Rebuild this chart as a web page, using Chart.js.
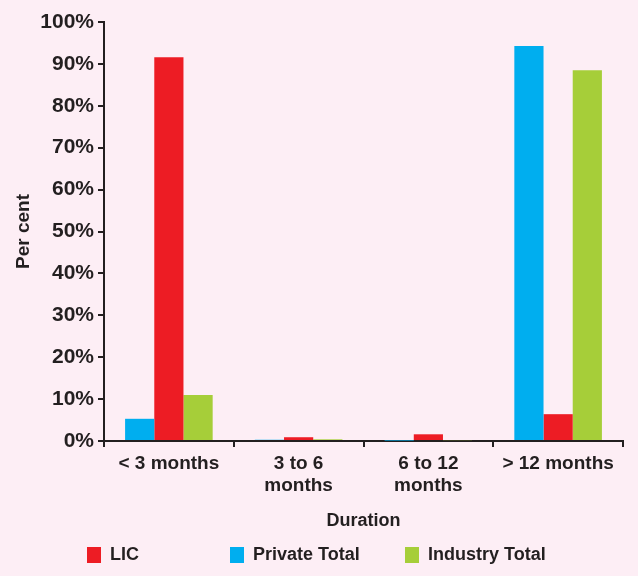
<!DOCTYPE html>
<html>
<head>
<meta charset="utf-8">
<script src="https://cdn.jsdelivr.net/npm/chart.js@4"></script>
<style>
  html, body { margin: 0; padding: 0; background: #fdeef5; }
  #wrap { position: relative; width: 638px; height: 576px; }
  #legend { position: absolute; top: 544px; left: 0; width: 638px; height: 26px;
    font-family: "Liberation Sans", Arial, sans-serif; font-size: 18px; font-weight: bold; color: #231f20; }
  .item { position: absolute; top: 0; display: flex; align-items: center; }
  .box { width: 14px; height: 16px; margin-right: 9px; }
</style>
</head>
<body>
<div id="wrap">
  <canvas id="chart" width="638" height="576"></canvas>
  <div id="legend"></div>
</div>
<script>
const categories = [['< 3 months'], ['3 to 6', 'months'], ['6 to 12', 'months'], ['> 12 months']];
const privateTotal = [5.3, 0.3, 0.1, 94.3];
const lic = [91.6, 0.9, 1.6, 6.4];
const industryTotal = [11.0, 0.4, 0.2, 88.5];
const yTicks = [0, 10, 20, 30, 40, 50, 60, 70, 80, 90, 100];

const ink = '#231f20';
const font = "'Liberation Sans', Arial, sans-serif";

const series = [
  { label: 'Private Total', data: privateTotal, color: '#00aeef' },
  { label: 'LIC', data: lic, color: '#ed1c24' },
  { label: 'Industry Total', data: industryTotal, color: '#a6ce39' },
];

new Chart(document.getElementById('chart'), {
  type: 'bar',
  data: {
    labels: categories,
    datasets: series.map(s => ({
      label: s.label,
      data: s.data,
      backgroundColor: s.color,
      borderWidth: 0,
      categoryPercentage: 0.675,
      barPercentage: 1.0,
    })),
  },
  options: {
    responsive: false,
    animation: false,
    layout: { padding: { top: 22, right: 15, left: 0, bottom: 0 } },
    plugins: { legend: { display: false }, tooltip: { enabled: false } },
    scales: {
      x: {
        grid: { display: true, drawOnChartArea: false, offset: true, color: ink, lineWidth: 2, tickLength: 6, tickColor: ink },
        border: { color: ink, width: 2 },
        ticks: { color: ink, font: { family: font, size: 19, weight: 'bold' }, padding: 5, maxRotation: 0, lineHeight: 1.1 },
        title: { display: true, text: 'Duration', color: ink, font: { family: font, size: 18, weight: 'bold' }, padding: { top: 8, bottom: 44 } },
        afterFit: s => { s.height = 135; },
      },
      y: {
        min: 0, max: 100,
        afterBuildTicks: s => { s.ticks = yTicks.map(v => ({ value: v })); },
        grid: { display: true, drawOnChartArea: false, color: ink, lineWidth: 2, tickLength: 6, tickColor: ink },
        border: { color: ink, width: 2 },
        ticks: { color: ink, font: { family: font, size: 21, weight: 'bold' }, padding: 4, callback: v => v + '%' },
        title: { display: true, text: 'Per cent', color: ink, font: { family: font, size: 19, weight: 'bold' }, padding: { top: 12, bottom: 6 } },
        afterFit: s => { s.width = 104; },
      },
    },
  },
});

// legend in the reference order, placed like the original
const legendItems = [
  { label: 'LIC', color: '#ed1c24', left: 87 },
  { label: 'Private Total', color: '#00aeef', left: 230 },
  { label: 'Industry Total', color: '#a6ce39', left: 405 },
];
const legend = document.getElementById('legend');
legendItems.forEach(it => {
  const d = document.createElement('div');
  d.className = 'item';
  d.style.left = it.left + 'px';
  d.innerHTML = '<span class="box" style="background:' + it.color + '"></span><span>' + it.label + '</span>';
  legend.appendChild(d);
});
</script>
</body>
</html>
